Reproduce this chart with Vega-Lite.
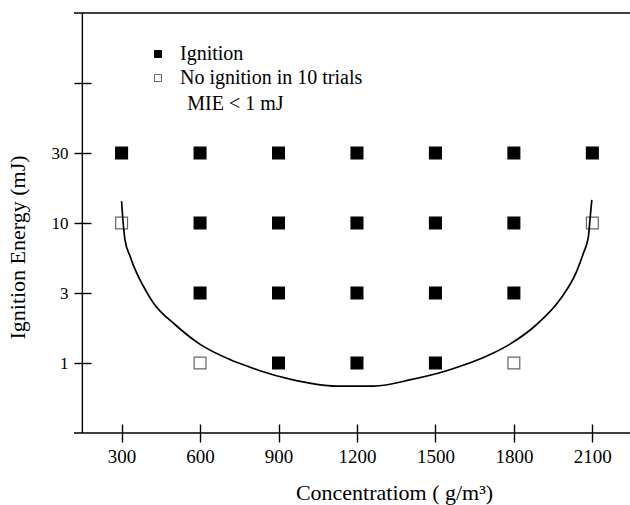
{
  "$schema": "https://vega.github.io/schema/vega-lite/v6.json",
  "autosize": {"type": "none"},
  "width": 556,
  "height": 420,
  "padding": {"left": 74, "top": 13, "right": 0, "bottom": 72},
  "background": "white",
  "config": {"view": {"stroke": null}, "font": "Liberation Serif"},
  "data": {"values": [{}]},
  "datasets": {
    "trials": [
      {"concentration": 300, "energy": 30, "result": "Ignition"},
      {"concentration": 600, "energy": 30, "result": "Ignition"},
      {"concentration": 900, "energy": 30, "result": "Ignition"},
      {"concentration": 1200, "energy": 30, "result": "Ignition"},
      {"concentration": 1500, "energy": 30, "result": "Ignition"},
      {"concentration": 1800, "energy": 30, "result": "Ignition"},
      {"concentration": 2100, "energy": 30, "result": "Ignition"},
      {"concentration": 300, "energy": 10, "result": "No ignition  in 10 trials"},
      {"concentration": 600, "energy": 10, "result": "Ignition"},
      {"concentration": 900, "energy": 10, "result": "Ignition"},
      {"concentration": 1200, "energy": 10, "result": "Ignition"},
      {"concentration": 1500, "energy": 10, "result": "Ignition"},
      {"concentration": 1800, "energy": 10, "result": "Ignition"},
      {"concentration": 2100, "energy": 10, "result": "No ignition  in 10 trials"},
      {"concentration": 600, "energy": 3, "result": "Ignition"},
      {"concentration": 900, "energy": 3, "result": "Ignition"},
      {"concentration": 1200, "energy": 3, "result": "Ignition"},
      {"concentration": 1500, "energy": 3, "result": "Ignition"},
      {"concentration": 1800, "energy": 3, "result": "Ignition"},
      {"concentration": 600, "energy": 1, "result": "No ignition  in 10 trials"},
      {"concentration": 900, "energy": 1, "result": "Ignition"},
      {"concentration": 1200, "energy": 1, "result": "Ignition"},
      {"concentration": 1500, "energy": 1, "result": "Ignition"},
      {"concentration": 1800, "energy": 1, "result": "No ignition  in 10 trials"}
    ],
    "boundary": [
      {"concentration": 300, "energy": 16.2},
      {"concentration": 306, "energy": 10.0},
      {"concentration": 313, "energy": 8.32},
      {"concentration": 332, "energy": 6.71},
      {"concentration": 357, "energy": 5.03},
      {"concentration": 383, "energy": 3.7},
      {"concentration": 421, "energy": 2.72},
      {"concentration": 504, "energy": 2.1},
      {"concentration": 599, "energy": 1.54},
      {"concentration": 714, "energy": 1.1},
      {"concentration": 791, "energy": 0.94},
      {"concentration": 829, "energy": 0.89},
      {"concentration": 944, "energy": 0.77},
      {"concentration": 1122, "energy": 0.67},
      {"concentration": 1262, "energy": 0.67},
      {"concentration": 1415, "energy": 0.77},
      {"concentration": 1543, "energy": 0.89},
      {"concentration": 1709, "energy": 1.24},
      {"concentration": 1785, "energy": 1.54},
      {"concentration": 1887, "energy": 2.1},
      {"concentration": 1977, "energy": 2.82},
      {"concentration": 2040, "energy": 5.17},
      {"concentration": 2066, "energy": 6.99},
      {"concentration": 2085, "energy": 8.67},
      {"concentration": 2091, "energy": 11.0},
      {"concentration": 2098, "energy": 16.6}
    ]
  },
  "layer": [
    {
      "data": {"name": "trials"},
      "mark": {"type": "square", "size": 140, "strokeWidth": 1.2, "opacity": 1},
      "encoding": {
        "x": {
          "field": "concentration", "type": "quantitative",
          "scale": {"domain": [118, 2244], "nice": false, "zero": false},
          "axis": {
            "values": [300, 600, 900, 1200, 1500, 1800, 2100],
            "format": "d",
            "domain": false, "grid": false, "offset": -9,
            "tickSize": 18, "tickColor": "black", "tickWidth": 1.4,
            "labelFont": "Liberation Serif", "labelFontSize": 19, "labelColor": "black",
            "labelPadding": 5, "labelFlush": false,
            "title": "Concentratiom ( g/m³)", "titleFont": "Liberation Serif",
            "titleFontSize": 22, "titleFontWeight": "normal", "titleColor": "black",
            "titlePadding": 16, "titleX": 320
          }
        },
        "y": {
          "field": "energy", "type": "quantitative",
          "scale": {"type": "linear", "domain": [0, 1, 3, 10, 30, 100, 300], "range": [420, 350, 280, 210, 140, 70, 0]},
          "axis": {
            "values": [1, 3, 10, 30, 100],
            "labelExpr": "datum.value == 100 ? '' : datum.label",
            "domain": false, "grid": false, "offset": -17,
            "tickSize": 17, "tickColor": "black", "tickWidth": 1.4,
            "labelFont": "Liberation Serif", "labelFontSize": 17, "labelColor": "black",
            "labelPadding": 6,
            "title": "Ignition Energy (mJ)", "titleFont": "Liberation Serif",
            "titleFontSize": 22, "titleFontWeight": "normal", "titleColor": "black",
            "titlePadding": 22, "titleY": 234
          }
        },
        "fill": {
          "field": "result", "type": "nominal",
          "scale": {"domain": ["Ignition", "No ignition  in 10 trials"], "range": ["black", "white"]},
          "legend": {
            "orient": "none", "legendX": 74, "legendY": 31, "title": null,
            "symbolType": "square", "symbolSize": 49, "symbolStrokeWidth": 1,
            "labelFont": "Liberation Serif", "labelFontSize": 20, "labelColor": "black",
            "labelOffset": 12, "padding": 0, "rowPadding": 4, "labelLimit": 400
          }
        },
        "stroke": {
          "field": "result", "type": "nominal",
          "scale": {"domain": ["Ignition", "No ignition  in 10 trials"], "range": ["black", "#666666"]},
          "legend": {
            "orient": "none", "legendX": 74, "legendY": 31, "title": null,
            "symbolType": "square", "symbolSize": 49, "symbolStrokeWidth": 1,
            "labelFont": "Liberation Serif", "labelFontSize": 20, "labelColor": "black",
            "labelOffset": 12, "padding": 0, "rowPadding": 4, "labelLimit": 400
          }
        }
      }
    },
    {
      "data": {"name": "boundary"},
      "mark": {"type": "line", "color": "black", "strokeWidth": 1.7, "interpolate": "monotone"},
      "encoding": {
        "x": {"field": "concentration", "type": "quantitative"},
        "y": {"field": "energy", "type": "quantitative"}
      }
    },
    {
      "mark": {"type": "rule", "color": "black", "strokeWidth": 1.4},
      "encoding": {"y": {"datum": 0, "type": "quantitative"}}
    },
    {
      "mark": {"type": "rule", "color": "black", "strokeWidth": 1.4},
      "encoding": {"y": {"datum": 300, "type": "quantitative"}}
    },
    {
      "mark": {"type": "rule", "color": "black", "strokeWidth": 1.4},
      "encoding": {"x": {"datum": 150, "type": "quantitative"}}
    },
    {
      "mark": {"type": "text", "text": "MIE < 1 mJ", "align": "left", "baseline": "middle", "fontSize": 20, "font": "Liberation Serif", "color": "black"},
      "encoding": {
        "x": {"datum": 551, "type": "quantitative"},
        "y": {"datum": 79, "type": "quantitative"}
      }
    }
  ]
}
